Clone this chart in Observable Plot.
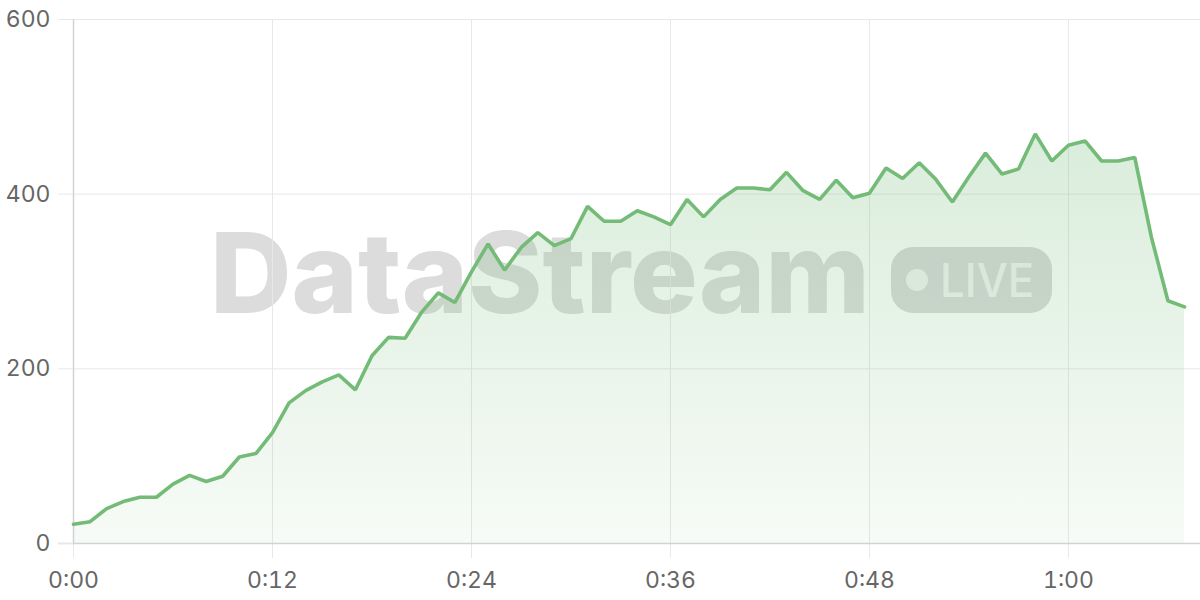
<!DOCTYPE html>
<html>
<head>
<meta charset="utf-8">
<script src="https://cdn.jsdelivr.net/npm/d3@7"></script>
<script src="https://cdn.jsdelivr.net/npm/@observablehq/plot@0.6"></script>
<style>
  body { margin: 0; background: #fff; }
  #wrap { position: relative; width: 1200px; height: 600px; overflow: hidden; }
  #wm { position: absolute; left: 0; top: 0; }
  #chart { position: absolute; left: 0; top: 0; }
</style>
</head>
<body>
<div id="wrap">
  <svg id="wm" width="1200" height="600">
    <text x="210" y="313" font-family="Inter, 'Open Sans', sans-serif" font-weight="800" font-size="112" fill="#dcdcdc" textLength="660" lengthAdjust="spacingAndGlyphs">DataStream</text>
    <rect x="891" y="247" width="161" height="66" rx="22" fill="#d9d9d9"></rect>
    <circle cx="917" cy="280" r="11" fill="#f3f3f3"></circle>
    <text x="940" y="297" font-family="Inter, 'Open Sans', sans-serif" font-weight="500" font-size="46" fill="#f3f3f3" textLength="94" lengthAdjust="spacingAndGlyphs">LIVE</text>
  </svg>
  <div id="chart"></div>
</div>
<script>
const minutes = [0,1,2,3,4,5,6,7,8,9,10,11,12,13,14,15,16,17,18,19,20,21,22,23,24,25,26,27,28,29,30,31,32,33,34,35,36,37,38,39,40,41,42,43,44,45,46,47,48,49,50,51,52,53,54,55,56,57,58,59,60,61,62,63,64,65,66,67];
const values = [22,25,40,48,53,53,68,78,71,77,99,103,127,161,175,185,193,176,215,236,235,265,287,276,311,343,313,339,356,341,349,386,369,369,381,374,365,394,374,394,407,407,405,425,404,394,416,396,401,430,418,436,417,391,420,447,423,429,469,438,456,461,438,438,442,351,278,271];
const xTicks = [0,12,24,36,48,60];
const xTickLabels = ["0:00","0:12","0:24","0:36","0:48","1:00"];
const yTicks = [0,200,400,600];

const data = minutes.map((m, i) => ({minute: m, value: values[i]}));
const lineColor = "#74bb78";
const gridColor = "#e8e8e8";

const defs = () => {
  const d = d3.create("svg:defs");
  const g = d.append("linearGradient").attr("id", "areaGrad").attr("x1", 0).attr("y1", 0).attr("x2", 0).attr("y2", 1);
  g.append("stop").attr("offset", "0%").attr("stop-color", lineColor).attr("stop-opacity", 0.27);
  g.append("stop").attr("offset", "100%").attr("stop-color", lineColor).attr("stop-opacity", 0.06);
  return d.node();
};

const chart = Plot.plot({
  width: 1200,
  height: 600,
  marginLeft: 73,
  marginRight: 16,
  marginTop: 19,
  marginBottom: 57,
  style: {fontSize: "23px", fontFamily: "Inter, 'Open Sans', sans-serif", background: "transparent", overflow: "visible"},
  x: {domain: [0, 67], label: null},
  y: {domain: [0, 600], label: null},
  marks: [
    defs,
    Plot.gridY(yTicks, {stroke: gridColor, strokeOpacity: 1, insetRight: -16}),
    Plot.gridX(xTicks, {stroke: gridColor, strokeOpacity: 1, insetBottom: -15}),
    Plot.areaY(data, {x: "minute", y: "value", fill: "url(#areaGrad)"}),
    Plot.ruleX([0], {stroke: "#d2d2d2", strokeWidth: 1.5}),
    Plot.ruleY([0], {stroke: "#d2d2d2", strokeWidth: 1.5, insetLeft: -15, insetRight: -16}),
    Plot.lineY(data, {x: "minute", y: "value", stroke: lineColor, strokeWidth: 3.6, strokeLinejoin: "miter"}),
    Plot.axisY({ticks: yTicks, tickSize: 15, tickPadding: 8, stroke: gridColor, strokeOpacity: 1, fill: "#666", label: null}),
    Plot.axisX({ticks: xTicks, tickFormat: (d) => xTickLabels[xTicks.indexOf(d)], tickSize: 0, tickPadding: 28, fill: "#666", label: null})
  ]
});
document.getElementById("chart").appendChild(chart);
</script>
</body>
</html>
